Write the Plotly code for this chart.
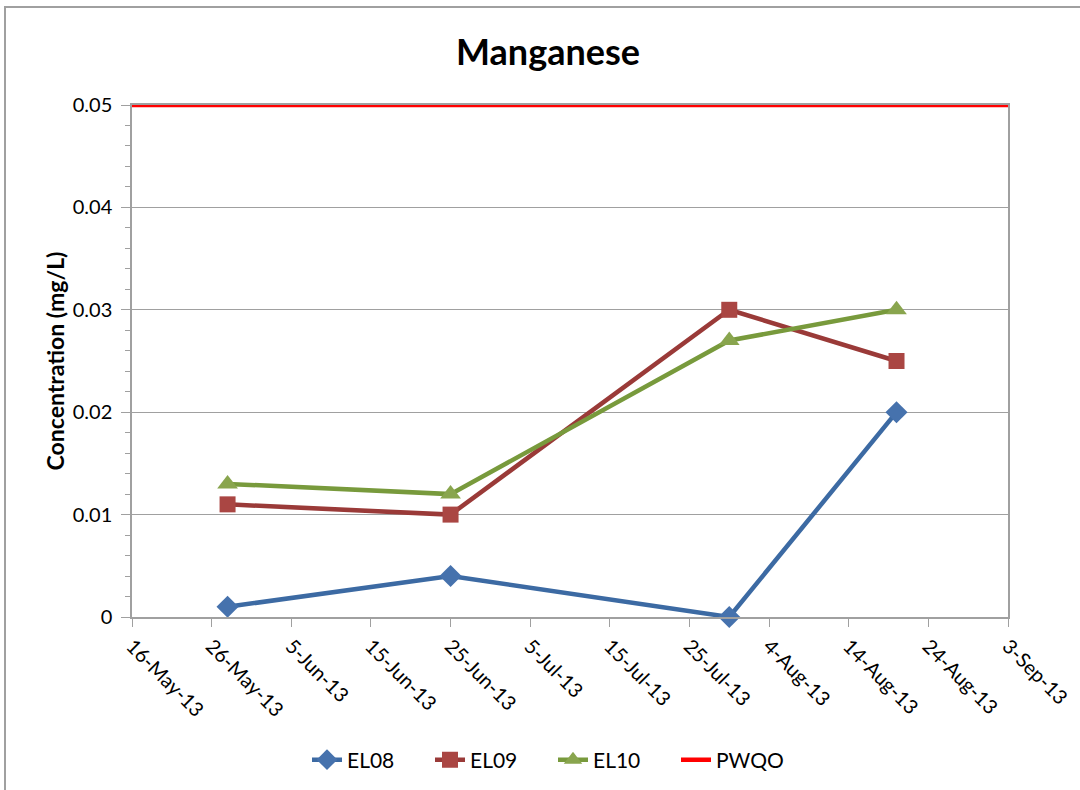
import plotly.graph_objects as go

dates = ["2013-05-28", "2013-06-25", "2013-07-30", "2013-08-20"]
el08 = [0.001, 0.004, 0.000, 0.020]
el09 = [0.011, 0.010, 0.030, 0.025]
el10 = [0.013, 0.012, 0.027, 0.030]
pwqo_dates = ["2013-05-16", "2013-09-03"]
pwqo = [0.05, 0.05]

FONT = "Lato"
fig = go.Figure()
fig.add_trace(go.Scatter(x=dates, y=el08, name="EL08", mode="lines+markers",
                         line=dict(color="#3C6AA3", width=4.5),
                         marker=dict(symbol="diamond", size=17, color="#4672AD"),
                         cliponaxis=False))
fig.add_trace(go.Scatter(x=dates, y=el09, name="EL09", mode="lines+markers",
                         line=dict(color="#9A3A38", width=4.5),
                         marker=dict(symbol="square", size=16, color="#AA4643"),
                         cliponaxis=False))
fig.add_trace(go.Scatter(x=dates, y=el10, name="EL10", mode="lines+markers",
                         line=dict(color="#789A3C", width=4.5),
                         marker=dict(symbol="triangle-up", size=18, color="#89A54E"),
                         cliponaxis=False))
fig.add_trace(go.Scatter(x=pwqo_dates, y=pwqo, name="PWQO", mode="lines",
                         line=dict(color="#FF0000", width=4.5), cliponaxis=False))

L, R, T, B = 132, 1008, 105, 617
W, H = 1080, 790
pw, ph = R - L, B - T

fig.update_layout(
    width=W, height=H,
    margin=dict(l=L, r=W - R, t=T, b=H - B, autoexpand=False),
    paper_bgcolor="white", plot_bgcolor="white",
    font=dict(family=FONT, size=20, color="#000000"),
    title=dict(text="<b>Manganese</b>", x=548 / W, xanchor="center",
               y=1 - 52 / H, yanchor="middle", font=dict(size=36, family=FONT)),
    showlegend=True,
    legend=dict(orientation="h", x=(553 - L) / pw, xanchor="center",
                y=(B - 760) / ph, yanchor="middle", font=dict(size=21),
                entrywidth=78, entrywidthmode="pixels"),
    xaxis=dict(type="date", range=["2013-05-16", "2013-09-03"], automargin=False,
               tick0="2013-05-16", dtick=864000000, tickformat="%-d-%b-%y",
               tickangle=45, ticks="outside", ticklen=8, tickcolor="#A0A0A0",
               showline=True, linecolor="#A0A0A0", linewidth=1.5, mirror=True,
               showgrid=False, zeroline=False, tickfont=dict(size=20)),
    yaxis=dict(range=[0, 0.05], dtick=0.01, ticks="outside", ticklen=9,
               automargin=False, ticklabelstandoff=5,
               tickcolor="#A0A0A0", showline=True, linecolor="#A0A0A0",
               linewidth=1.5, mirror=True, showgrid=True, gridcolor="#A0A0A0",
               gridwidth=1, zeroline=False, tickfont=dict(size=20),
               minor=dict(dtick=0.002, ticks="outside", ticklen=5, tickcolor="#A0A0A0",
                          showgrid=False),
               title=dict(text="<b>Concentration (mg/L)</b>", font=dict(size=23),
                          standoff=2)),
)

fig.add_shape(type="rect", xref="paper", yref="paper",
              x0=(5 - L) / pw, x1=(W + 20 - L) / pw,
              y0=(B - (H + 20)) / ph, y1=(B - 7) / ph,
              line=dict(color="#A0A0A0", width=2), fillcolor="rgba(0,0,0,0)", layer="below")

fig.write_html("out.html", config={"displayModeBar": False},
               post_script="document.body.style.margin='0';")
